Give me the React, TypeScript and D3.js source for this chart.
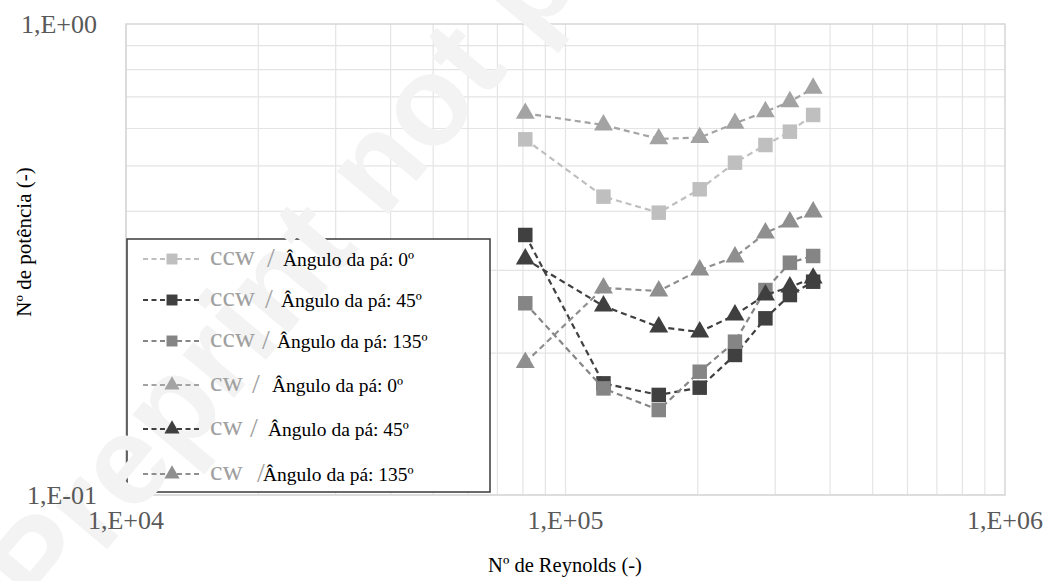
import React from "react";
import * as d3 from "d3";

// Reynolds numbers of the measured operating points
const reynolds = [81000, 122000, 163000, 202000, 243000, 285000, 324000, 366000];

// Power number for each rotation direction / blade angle
const ccw0 = [0.569, 0.43, 0.3976, 0.4457, 0.5076, 0.5534, 0.5907, 0.641];
const ccw45 = [0.3565, 0.1726, 0.1631, 0.169, 0.1983, 0.2372, 0.2658, 0.2837];
const ccw135 = [0.2553, 0.1684, 0.1515, 0.1827, 0.2116, 0.2724, 0.3113, 0.3217];
const cw0 = [0.6461, 0.6103, 0.5703, 0.574, 0.6154, 0.6512, 0.6839, 0.7303];
const cw45 = [0.317, 0.2519, 0.2274, 0.2219, 0.2411, 0.2658, 0.2764, 0.2888];
const cw135 = [0.1911, 0.2751, 0.2711, 0.3004, 0.3201, 0.3599, 0.3799, 0.399];

const xTicks = [1e4, 1e5, 1e6];
const xTickLabels = ["1,E+04", "1,E+05", "1,E+06"];
const yTicks = [0.1, 1];
const yTickLabels = ["1,E-01", "1,E+00"];

const series = [
  { dir: "ccw", angle: "Ângulo da pá: 0º", values: ccw0, color: "#bfbfbf", shape: "square" },
  { dir: "ccw", angle: "Ângulo da pá: 45º", values: ccw45, color: "#404040", shape: "square" },
  { dir: "ccw", angle: "Ângulo da pá: 135º", values: ccw135, color: "#858585", shape: "square" },
  { dir: "cw", angle: "Ângulo da pá: 0º", values: cw0, color: "#a3a3a3", shape: "triangle" },
  { dir: "cw", angle: "Ângulo da pá: 45º", values: cw45, color: "#3f3f3f", shape: "triangle" },
  { dir: "cw", angle: "Ângulo da pá: 135º", values: cw135, color: "#8f8f8f", shape: "triangle" },
];

// legend row layout: vertical centre, slash x, label x
const legendRows = [
  { y: 259, slash: 267, label: 283 },
  { y: 300, slash: 265, label: 281 },
  { y: 341, slash: 262, label: 277 },
  { y: 385, slash: 252, label: 272 },
  { y: 429, slash: 250, label: 268 },
  { y: 474, slash: 257, label: 263 },
];

const W = 1051;
const H = 581;
const plot = { left: 126, right: 1005, top: 24, bottom: 495 };
const serif = "Liberation Serif, Times New Roman, serif";

export default function App() {
  const x = d3.scaleLog().domain([1e4, 1e6]).range([plot.left, plot.right]);
  const y = d3.scaleLog().domain([0.1, 1]).range([plot.bottom, plot.top]);

  const minorX: number[] = [];
  for (let dec = 1e4; dec < 1e6; dec *= 10) for (let k = 1; k <= 9; k++) minorX.push(dec * k);
  const minorY: number[] = [];
  for (let k = 1; k <= 9; k++) minorY.push(0.1 * k);

  const line = d3
    .line<number>()
    .x((_, i) => x(reynolds[i]))
    .y((v) => y(v));

  const sq = d3.symbol().type(d3.symbolSquare).size(210)();
  const tri = d3.symbol().type(d3.symbolTriangle).size(155)();
  const sqSmall = d3.symbol().type(d3.symbolSquare).size(120)();
  const triSmall = d3.symbol().type(d3.symbolTriangle).size(100)();

  const legend = { left: 127, top: 239, right: 490, bottom: 492 };

  return (
    <svg width={W} height={H} style={{ position: "absolute", left: 0, top: 0, background: "#fff" }}>
      {/* grid */}
      {minorX.map((v) => (
        <line key={"gx" + v} x1={x(v)} x2={x(v)} y1={plot.top} y2={plot.bottom} stroke="#e4e4e4" strokeWidth={1.2} />
      ))}
      {minorY.map((v) => (
        <line key={"gy" + v} x1={plot.left} x2={plot.right} y1={y(v)} y2={y(v)} stroke="#e4e4e4" strokeWidth={1.2} />
      ))}
      <rect
        x={plot.left}
        y={plot.top}
        width={plot.right - plot.left}
        height={plot.bottom - plot.top}
        fill="none"
        stroke="#d6d6d6"
        strokeWidth={1.5}
      />

      {/* legend box */}
      <rect
        x={legend.left}
        y={legend.top}
        width={legend.right - legend.left}
        height={legend.bottom - legend.top}
        fill="#fff"
        stroke="#3a3a3a"
        strokeWidth={1.5}
      />

      {/* faint diagonal watermark */}
      <text
        transform="translate(47,621) rotate(-50)"
        fontFamily="Liberation Sans, Arial, sans-serif"
        fontWeight="bold"
        fontSize={127}
        fill="#f3f3f3"
      >
        Preprint not peer reviewed
      </text>

      {/* tick labels */}
      {xTicks.map((v, i) => (
        <text key={"xt" + v} x={x(v)} y={529} textAnchor="middle" fontFamily={serif} fontSize={26} fill="#595959">
          {xTickLabels[i]}
        </text>
      ))}
      {yTicks.map((v, i) => (
        <text key={"yt" + v} x={97} y={y(v) + 9} textAnchor="end" fontFamily={serif} fontSize={26} fill="#595959">
          {yTickLabels[i]}
        </text>
      ))}

      {/* axis titles */}
      <text x={565} y={572} textAnchor="middle" fontFamily={serif} fontSize={20.5} fill="#000">
        Nº de Reynolds (-)
      </text>
      <text transform="translate(31,242) rotate(-90)" textAnchor="middle" fontFamily={serif} fontSize={21} fill="#000">
        Nº de potência (-)
      </text>

      {/* series */}
      {series.map((s, si) => (
        <g key={"s" + si}>
          <path d={line(s.values) || ""} fill="none" stroke={s.color} strokeWidth={2.2} strokeDasharray="6,4" />
          {s.values.map((v, i) => (
            <path
              key={i}
              d={s.shape === "square" ? sq : tri}
              transform={`translate(${x(reynolds[i])},${y(v)})`}
              fill={s.color}
            />
          ))}
        </g>
      ))}

      {/* legend entries */}
      {series.map((s, i) => {
        const r = legendRows[i];
        return (
          <g key={"l" + i} transform={`translate(0,${r.y})`}>
            <line x1={143} x2={201} y1={0} y2={0} stroke={s.color} strokeWidth={2} strokeDasharray="5,3.5" />
            <path d={s.shape === "square" ? sqSmall : triSmall} transform="translate(172,0)" fill={s.color} />
            <text x={210} y={6} fontFamily={serif} fontSize={28} fill="#a0a0a0">
              {s.dir}
            </text>
            <text x={r.slash} y={8} fontFamily={serif} fontSize={28} fill="#a0a0a0">
              /
            </text>
            <text x={r.label} y={7} fontFamily={serif} fontSize={19.5} fill="#000">
              {s.angle}
            </text>
          </g>
        );
      })}
    </svg>
  );
}
